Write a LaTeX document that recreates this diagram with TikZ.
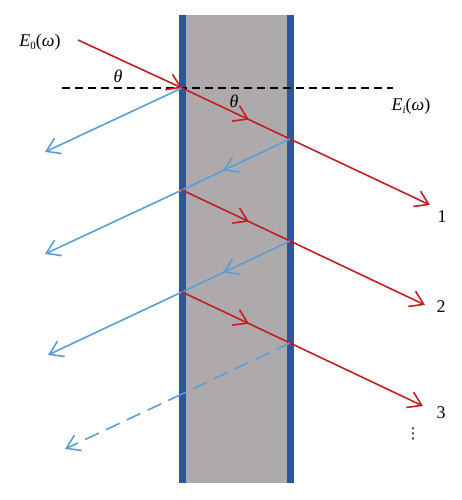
\documentclass[tikz,border=0pt]{standalone}
\usepackage{fontspec}
\setmainfont{Liberation Serif}
\newfontfamily\symfont{DejaVu Sans}
\usetikzlibrary{arrows.meta,decorations.markings}
\definecolor{slabgray}{RGB}{174,170,171}
\definecolor{wallblue}{RGB}{46,84,158}
\definecolor{rayred}{RGB}{196,30,36}
\definecolor{rayblue}{RGB}{91,157,213}
\newcommand{\lowsub}[1]{\raisebox{-3.5bp}{\fontsize{11}{12}\selectfont #1}}
\begin{document}
\begin{tikzpicture}[x=1bp,y=-1bp,
  tip/.style={-{Straight Barb[length=13bp,width=17bp,line width=1.6bp]}},
  red ray/.style={draw=rayred,line width=1.6bp},
  blue ray/.style={draw=rayblue,line width=1.6bp},
  midtip/.style={postaction={decorate},decoration={markings,
    mark=at position 0.62 with {\arrow{Straight Barb[length=13bp,width=17bp,line width=1.6bp]}}}},
  lbl/.style={font=\fontsize{18}{20}\selectfont,inner sep=0pt}]
\useasboundingbox (0,0) rectangle (462,500);
% slab
\fill[slabgray] (182,15) rectangle (290,483);
\fill[wallblue] (178.5,15) rectangle (185.5,483);
\fill[wallblue] (287,15) rectangle (294,483);
% points
\coordinate (S) at (78,40);
\coordinate (L1) at (182,88);
\coordinate (R1) at (290,139);
\coordinate (L2) at (182,190);
\coordinate (R2) at (290,241);
\coordinate (L3) at (182,292);
\coordinate (R3) at (290,343);
\coordinate (L4) at (182,394);
\coordinate (B1) at (45,152);
\coordinate (B2) at (45,254);
\coordinate (B3) at (48,355);
\coordinate (B4) at (65,449);
\coordinate (T1) at (430,205);
\coordinate (T2) at (425,305);
\coordinate (T3) at (423,406);
\coordinate (DL) at (62,88);
\coordinate (DR) at (393,88);
% normal dashed line
\draw[black,line width=1.1bp,dash pattern=on 8bp off 5bp] (DL) -- (DR);
% incident
\draw[red ray,tip] (S) -- (L1);
% reflected outside
\draw[blue ray,tip] (L1) -- (B1);
\draw[blue ray,tip] (L2) -- (B2);
\draw[blue ray,tip] (L3) -- (B3);
% inside
\draw[red ray,midtip] (L1) -- (R1);
\draw[blue ray,midtip] (R1) -- (L2);
\draw[red ray,midtip] (L2) -- (R2);
\draw[blue ray,midtip] (R2) -- (L3);
\draw[red ray,midtip] (L3) -- (R3);
\draw[blue ray,dash pattern=on 15bp off 8bp] (R3) -- (L4);
\draw[blue ray,dash pattern=on 15bp off 8bp,tip] (L4) -- (B4);
% transmitted
\draw[red ray,tip] (R1) -- (T1);
\draw[red ray,tip] (R2) -- (T2);
\draw[red ray,tip] (R3) -- (T3);
% labels
\node[lbl] (e0) at (40,42) {\textit{E}\lowsub{0}(\textit{ω})};
\node[lbl] (th1) at (118,76) {\textit{θ}};
\node[lbl] (th2) at (234,101) {\textit{θ}};
\node[lbl] (ei) at (411,106) {\textit{E}\lowsub{\textit{i}}(\textit{ω})};
\node[lbl] (n1) at (442,217) {1};
\node[lbl] (n2) at (441,307) {2};
\node[lbl] (n3) at (441,413) {3};
\node[lbl,font=\symfont\fontsize{15}{16}\selectfont] (dots) at (413,434) {⋮};
\end{tikzpicture}
\end{document}
